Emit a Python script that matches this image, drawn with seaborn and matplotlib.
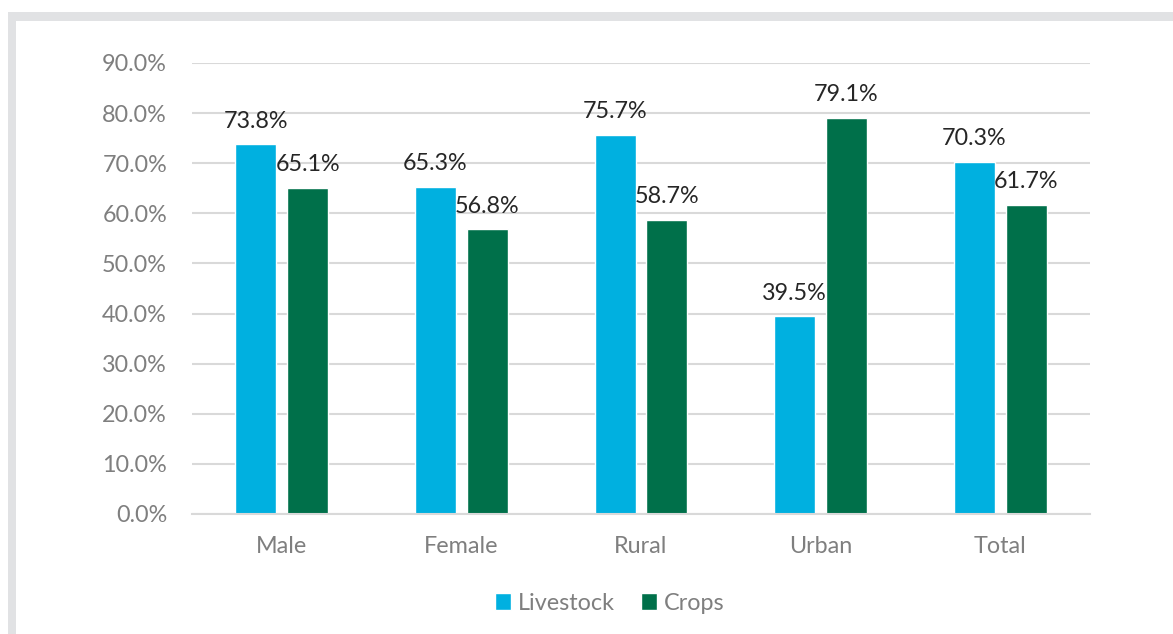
import matplotlib
matplotlib.use("Agg")
import matplotlib.pyplot as plt
import seaborn as sns
import pandas as pd
from matplotlib.patches import Rectangle

categories = ["Male", "Female", "Rural", "Urban", "Total"]
livestock = [0.738, 0.653, 0.757, 0.395, 0.703]
crops = [0.651, 0.568, 0.587, 0.791, 0.617]
series = ["Livestock", "Crops"]
yticks = [0.0, 0.1, 0.2, 0.3, 0.4, 0.5, 0.6, 0.7, 0.8, 0.9]

df = pd.DataFrame({
    "category": categories * 2,
    "value": livestock + crops,
    "series": [series[0]] * len(categories) + [series[1]] * len(categories),
})

sns.set_theme(style="white")
plt.rcParams["font.family"] = ["Lato", "DejaVu Sans"]

colors = {"Livestock": "#00B0E0", "Crops": "#00704A"}
tick_color = "#7F7F7F"
fs = 16.8

fig = plt.figure(figsize=(11.73, 6.34), dpi=100)
fig.patch.set_facecolor("white")
# grey frame (left and top)
fig.patches.append(Rectangle((8 / 1173, 0), 8 / 1173, 1 - 12 / 634, transform=fig.transFigure,
                             facecolor="#E1E2E4", edgecolor="none", zorder=0))
fig.patches.append(Rectangle((8 / 1173, 1 - 20.5 / 634), 1, 8.5 / 634, transform=fig.transFigure,
                             facecolor="#E1E2E4", edgecolor="none", zorder=0))

ax = fig.add_axes([192 / 1173, 1 - 514 / 634, (1090 - 192) / 1173, (514 - 63) / 634])
ax.set_facecolor("none")

sns.barplot(data=df, x="category", y="value", hue="series", order=categories,
            hue_order=series, palette=colors, width=0.578, gap=0.21,
            saturation=1, ax=ax, legend=True)

ax.set_ylim(0, 0.9)
ax.set_xlim(-0.5, 4.5)
ax.set_yticks(yticks)
ax.set_yticklabels([f"{v*100:.1f}%" for v in yticks])
ax.yaxis.grid(True, color="#D9D9D9", linewidth=1.5)
ax.set_axisbelow(True)
for s in ["top", "right", "left"]:
    ax.spines[s].set_visible(False)
ax.spines["bottom"].set_color("#D9D9D9")
ax.spines["bottom"].set_linewidth(1.5)
ax.tick_params(axis="y", length=0, pad=18, labelsize=fs, labelcolor=tick_color)
ax.tick_params(axis="x", length=0, pad=16, labelsize=fs, labelcolor=tick_color)
ax.set_xlabel("")
ax.set_ylabel("")

for cont in ax.containers:
    labels = [f"{b.get_height()*100:.1f}%" for b in cont]
    ax.bar_label(cont, labels=labels, padding=9, fontsize=fs, color="#262626")

handles, labs = ax.get_legend_handles_labels()
ax.legend(handles, labs, loc="center", bbox_to_anchor=(610 / 1173, 1 - 603 / 634), bbox_transform=fig.transFigure,
          ncol=2, frameon=False, fontsize=fs, labelcolor=tick_color, handlelength=0.7,
          handleheight=0.7, handletextpad=0.3, columnspacing=1.1)

fig.savefig("out.png", dpi=100, facecolor="white")
